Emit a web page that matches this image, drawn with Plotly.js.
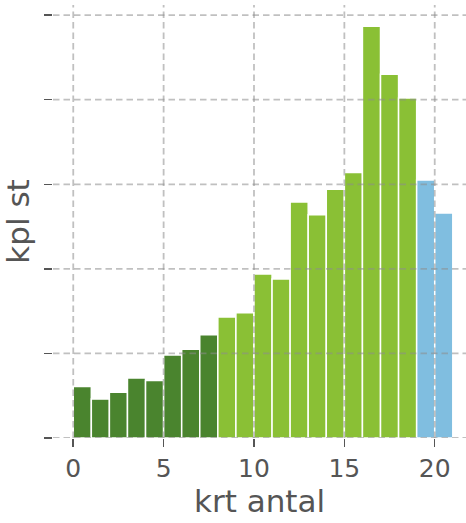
<!DOCTYPE html>
<html>
<head>
<meta charset="utf-8">
<script src="https://cdn.plot.ly/plotly-3.0.1.min.js"></script>
<style>html,body{margin:0;padding:0;background:#fff;}#chart{width:466px;height:523px;}</style>
</head>
<body>
<div id="chart"></div>
<script>
// Data (y in grid units x10; axis has no labels)
const darkX = [0, 1, 2, 3, 4, 5, 6, 7];
const darkY = [6.1, 4.6, 5.4, 7.1, 6.8, 9.8, 10.5, 12.2];
const lightX = [8, 9, 10, 11, 12, 13, 14, 15, 16, 17, 18];
const lightY = [14.3, 14.8, 19.4, 18.8, 27.9, 26.4, 29.4, 31.4, 48.7, 43.0, 40.2];
const blueX = [19, 20];
const blueY = [30.5, 26.6];
const xTicks = [0, 5, 10, 15, 20];
const yTicks = [0, 10, 20, 30, 40, 50];

const textColor = '#555555';
const gridColor = 'rgba(140,140,140,0.55)';

function barTrace(xs, ys, color) {
  return {
    type: 'bar', x: xs, y: ys, width: 1, offset: 0,
    marker: {color: color, line: {color: '#ffffff', width: 1.5}},
    hoverinfo: 'skip', showlegend: false
  };
}

const traces = [
  barTrace(darkX, darkY, '#4a842e'),
  barTrace(lightX, lightY, '#8ac035'),
  barTrace(blueX, blueY, '#80bee0')
];

// Dashed gridlines drawn above bars (as in reference)
const shapes = [];
xTicks.forEach(v => shapes.push({type: 'line', layer: 'above', xref: 'x', yref: 'paper', x0: v, x1: v, y0: 0, y1: 1,
  line: {color: gridColor, width: 1.8, dash: '6.5px,4px'}}));
yTicks.forEach(v => shapes.push({type: 'line', layer: 'above', xref: 'paper', yref: 'y', x0: 0, x1: 1, y0: v, y1: v,
  line: {color: gridColor, width: 1.8, dash: '6.5px,4px'}}));

const layout = {
  width: 466, height: 523,
  margin: {l: 53, r: 0, t: 5, b: 85},
  paper_bgcolor: '#ffffff', plot_bgcolor: '#ffffff',
  font: {family: 'DejaVu Sans', color: textColor},
  bargap: 0,
  xaxis: {
    range: [-1.12, 21.73], tickvals: xTicks, ticktext: xTicks.map(String),
    showgrid: false, zeroline: false, showline: false,
    ticks: 'outside', ticklen: 8, tickwidth: 1.5, tickcolor: textColor,
    tickfont: {size: 25, color: textColor},
    title: {text: 'krt antal', font: {size: 31, color: textColor}, standoff: 6}
  },
  yaxis: {
    range: [0, 51.2], tickvals: yTicks, showticklabels: false,
    showgrid: false, zeroline: false, showline: false,
    ticks: 'outside', ticklen: 8, tickwidth: 1.5, tickcolor: textColor,
    title: {text: 'kpl st', font: {size: 31, color: textColor}, standoff: 7}
  },
  shapes: shapes
};

Plotly.newPlot('chart', traces, layout, {displayModeBar: false, staticPlot: true});
</script>
</body>
</html>
